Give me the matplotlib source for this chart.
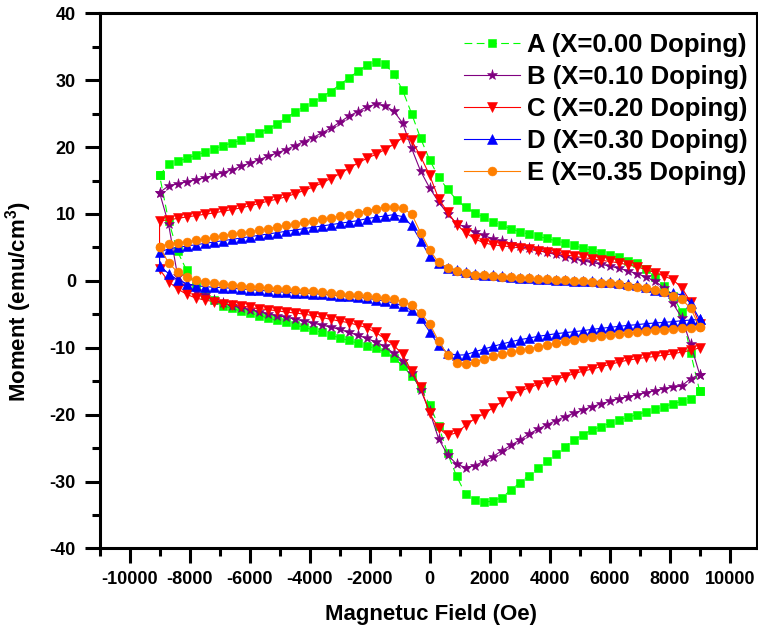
import matplotlib
matplotlib.use("Agg")
import matplotlib.pyplot as plt
from matplotlib.ticker import MultipleLocator

# ---------------- data ----------------
H_upper = [9000, 8700, 8400, 8100, 7800, 7500, 7200, 6900, 6600, 6300, 6000,
           5700, 5400, 5100, 4800, 4500, 4200, 3900, 3600, 3300, 3000, 2700,
           2400, 2100, 1800, 1500, 1200, 900, 600, 300, 0, -300, -600, -900,
           -1200, -1500, -1800, -2100, -2400, -2700, -3000, -3300, -3600,
           -3900, -4200, -4500, -4800, -5100, -5400, -5700, -6000, -6300,
           -6600, -6900, -7200, -7500, -7800, -8100, -8400, -8700, -9000]
H_lower = H_upper[::-1]

A_up = [-16.5, -10.8, -4.7, -2.2, -0.7, 0.6, 1.8, 2.6, 3.0, 3.5, 3.9, 4.2, 4.6, 4.9, 5.3, 5.7, 6.0, 6.35, 6.7, 7.0, 7.35, 7.8, 8.3, 8.8, 9.5, 10.2, 11.0, 12.1, 13.7, 15.5, 18.1, 21.3, 25.0, 28.5, 31.0, 32.4, 32.7, 32.2, 31.3, 30.3, 29.3, 28.3, 27.5, 26.7, 26.0, 25.2, 24.3, 23.4, 22.7, 22.1, 21.5, 21.0, 20.6, 20.2, 19.7, 19.2, 18.8, 18.3, 17.9, 17.4, 15.8]
A_low = [15.8, 9.0, 4.4, 1.6, -0.8, -2.1, -2.9, -3.7, -4.1, -4.5, -4.8, -5.2, -5.5, -5.9, -6.2, -6.6, -6.9, -7.3, -7.7, -8.1, -8.5, -8.9, -9.3, -9.7, -10.1, -10.6, -11.5, -12.7, -14.2, -16.0, -18.5, -21.7, -25.8, -29.2, -31.9, -32.8, -33.1, -32.9, -32.4, -31.3, -30.2, -29.1, -28.0, -26.9, -25.9, -24.8, -23.8, -23.0, -22.3, -21.8, -21.3, -20.8, -20.4, -20.0, -19.6, -19.2, -18.8, -18.4, -18.0, -17.6, -16.5]

B_up = [-14.0, -9.5, -5.5, -3.3, -1.0, 0.0, 0.6, 1.1, 1.5, 1.9, 2.2, 2.5, 2.75, 3.0, 3.3, 3.6, 3.95, 4.25, 4.6, 4.9, 5.15, 5.5, 5.9, 6.3, 6.8, 7.3, 8.0, 8.6, 10.0, 11.8, 13.9, 16.4, 19.8, 23.6, 25.4, 26.2, 26.4, 26.0, 25.3, 24.6, 23.7, 22.8, 22.1, 21.4, 20.8, 20.2, 19.6, 19.1, 18.6, 18.1, 17.6, 17.1, 16.6, 16.2, 15.8, 15.4, 15.1, 14.8, 14.5, 14.2, 13.2]
B_low = [13.2, 8.5, 0.8, -0.8, -1.5, -2.1, -2.8, -3.3, -3.7, -4.0, -4.3, -4.6, -4.9, -5.2, -5.4, -5.7, -6.0, -6.3, -6.6, -6.9, -7.25, -7.7, -8.1, -8.6, -9.1, -9.8, -10.8, -11.9, -13.7, -16.3, -19.5, -23.6, -26.0, -27.4, -27.9, -27.6, -27.0, -26.3, -25.4, -24.6, -23.8, -22.9, -22.2, -21.5, -20.9, -20.3, -19.8, -19.3, -18.8, -18.4, -18.0, -17.6, -17.3, -17.0, -16.7, -16.4, -16.1, -15.9, -15.7, -14.6, -14.0]

C_up = [-6.5, -3.2, -1.0, 0.2, 0.75, 1.25, 1.7, 2.1, 2.4, 2.7, 2.9, 3.1, 3.3, 3.5, 3.7, 3.9, 4.1, 4.3, 4.5, 4.7, 4.95, 5.1, 5.25, 5.4, 5.7, 6.3, 7.2, 8.4, 10.3, 12.3, 15.8, 18.6, 21.0, 21.4, 20.4, 19.6, 18.9, 18.3, 17.6, 16.8, 16.0, 15.3, 14.6, 14.0, 13.5, 13.0, 12.55, 12.2, 11.9, 11.55, 11.2, 10.9, 10.65, 10.4, 10.15, 9.95, 9.75, 9.55, 9.35, 9.1, 9.0]
C_low = [1.75, -0.1, -1.2, -2.0, -2.55, -2.85, -3.1, -3.4, -3.6, -3.75, -3.95, -4.15, -4.3, -4.45, -4.65, -4.8, -4.95, -5.2, -5.45, -5.75, -6.0, -6.25, -6.6, -7.0, -7.7, -8.6, -9.6, -11.0, -13.5, -15.9, -19.8, -22.0, -23.1, -22.7, -21.6, -20.6, -19.9, -19.0, -18.1, -17.2, -16.5, -16.0, -15.5, -15.15, -14.75, -14.3, -13.9, -13.5, -13.2, -12.85, -12.5, -12.15, -11.85, -11.65, -11.45, -11.3, -11.1, -10.9, -10.65, -10.4, -10.0]

D_up = [-5.75, -3.3, -2.1, -1.8, -1.55, -1.3, -0.95, -0.65, -0.45, -0.3, -0.2, -0.1, -0.05, 0.0, 0.05, 0.15, 0.2, 0.25, 0.3, 0.4, 0.45, 0.55, 0.7, 0.85, 0.95, 1.1, 1.3, 1.6, 2.0, 2.7, 3.7, 6.0, 8.3, 9.6, 9.9, 9.7, 9.5, 9.3, 9.0, 8.8, 8.6, 8.4, 8.2, 8.0, 7.8, 7.6, 7.4, 7.2, 7.0, 6.8, 6.6, 6.4, 6.2, 6.0, 5.8, 5.6, 5.4, 5.2, 5.0, 4.8, 4.25]
D_low = [2.25, 1.1, 0.15, -0.4, -0.7, -0.85, -0.95, -1.0, -1.1, -1.2, -1.3, -1.4, -1.5, -1.6, -1.7, -1.8, -1.85, -1.9, -2.0, -2.1, -2.2, -2.3, -2.4, -2.6, -2.8, -3.0, -3.3, -3.7, -4.4, -5.6, -7.6, -9.6, -10.8, -11.1, -11.05, -10.6, -10.2, -9.8, -9.45, -9.1, -8.8, -8.55, -8.3, -8.1, -7.9, -7.75, -7.6, -7.45, -7.25, -7.1, -6.95, -6.8, -6.65, -6.55, -6.4, -6.3, -6.2, -6.1, -5.95, -5.85, -5.75]

E_up = [-6.9, -4.1, -2.75, -2.2, -1.65, -1.3, -1.05, -0.85, -0.7, -0.5, -0.35, -0.25, -0.1, 0.0, 0.05, 0.1, 0.2, 0.25, 0.3, 0.4, 0.5, 0.55, 0.65, 0.75, 0.85, 0.95, 1.2, 1.55, 2.0, 2.75, 4.6, 7.2, 10.0, 10.85, 11.1, 11.0, 10.8, 10.5, 10.15, 9.9, 9.65, 9.45, 9.2, 9.0, 8.75, 8.5, 8.3, 8.05, 7.8, 7.55, 7.35, 7.15, 6.95, 6.75, 6.5, 6.25, 6.05, 5.85, 5.7, 5.55, 5.1]
E_low = [5.1, 2.7, 1.3, 0.6, 0.15, -0.15, -0.3, -0.45, -0.6, -0.75, -0.85, -0.95, -1.05, -1.15, -1.25, -1.35, -1.45, -1.55, -1.7, -1.8, -1.9, -2.05, -2.15, -2.3, -2.45, -2.6, -2.75, -3.1, -3.6, -4.8, -6.4, -9.0, -11.1, -12.3, -12.45, -12.1, -11.7, -11.3, -10.95, -10.7, -10.4, -10.15, -9.9, -9.6, -9.3, -9.05, -8.85, -8.6, -8.4, -8.25, -8.1, -7.95, -7.8, -7.7, -7.55, -7.4, -7.3, -7.2, -7.1, -7.0, -6.9]

labels = ["A (X=0.00 Doping)", "B (X=0.10 Doping)", "C (X=0.20 Doping)",
          "D (X=0.30 Doping)", "E (X=0.35 Doping)"]
x_ticks = [-10000, -8000, -6000, -4000, -2000, 0, 2000, 4000, 6000, 8000, 10000]
y_ticks = [-40, -30, -20, -10, 0, 10, 20, 30, 40]

# ---------------- style ----------------
plt.rcParams['font.family'] = ['Liberation Sans', 'DejaVu Sans']
plt.rcParams['axes.unicode_minus'] = False
plt.rcParams['mathtext.fontset'] = 'custom'
plt.rcParams['mathtext.bf'] = 'Liberation Sans:bold'
plt.rcParams['mathtext.rm'] = 'Liberation Sans:bold'
plt.rcParams['mathtext.it'] = 'Liberation Sans:bold'

styles = [
    dict(color='#00FF00', marker='s', ms=5.4, ls=(0, (7, 4)), lw=0.8),
    dict(color='#800080', marker='*', ms=8.0, ls='-', lw=0.8),
    dict(color='#FF0000', marker='v', ms=7.0, ls='-', lw=0.8),
    dict(color='#0000FF', marker='^', ms=7.0, ls='-', lw=0.8),
    dict(color='#FF7F00', marker='o', ms=6.4, ls='-', lw=0.8),
]
series = [(A_up, A_low), (B_up, B_low), (C_up, C_low), (D_up, D_low), (E_up, E_low)]

fig = plt.figure(figsize=(7.58, 6.33), dpi=100)
ax = fig.add_axes([0.1313, 0.1335, 0.867, 0.8455])

for (up, low), st, lab in zip(series, styles, labels):
    ax.plot(H_upper + H_lower, up + low, label=lab, color=st['color'],
            marker=st['marker'], markersize=st['ms'], linestyle=st['ls'],
            linewidth=st['lw'], markeredgecolor=st['color'], markeredgewidth=0.4)

ax.set_xlim(-11000, 10900)
ax.set_ylim(-40, 40)
ax.set_xticks(x_ticks)
ax.set_yticks(y_ticks)
ax.xaxis.set_minor_locator(MultipleLocator(1000))
ax.yaxis.set_minor_locator(MultipleLocator(5))
ax.tick_params(which='major', direction='out', length=11, width=2.2, pad=5)
ax.tick_params(which='minor', direction='out', length=6, width=2.2)
ax.tick_params(axis='y', which='major', pad=6)
ax.tick_params(top=False, right=False, which='both')
for lbl in ax.get_xticklabels() + ax.get_yticklabels():
    lbl.set_fontweight('bold')
    lbl.set_fontsize(13)
for sp in ax.spines.values():
    sp.set_linewidth(2.2)

ax.set_xlabel("Magnetuc Field (Oe)", fontsize=16, fontweight='bold', va='top')
ax.xaxis.set_label_coords(0.505, -0.104)
ax.set_ylabel(r"Moment (emu/cm$^\mathbf{3}$)", fontsize=16, fontweight='bold')
ax.yaxis.set_label_coords(-0.10, 0.462)

leg = ax.legend(loc='upper right', bbox_to_anchor=(0.986, 0.963), frameon=False,
                prop=dict(family='Liberation Sans', weight='bold', size=18.5),
                handlelength=2.15, handletextpad=0.28, labelspacing=0.31,
                borderpad=0, borderaxespad=0)

fig.savefig("out.png", dpi=100)
